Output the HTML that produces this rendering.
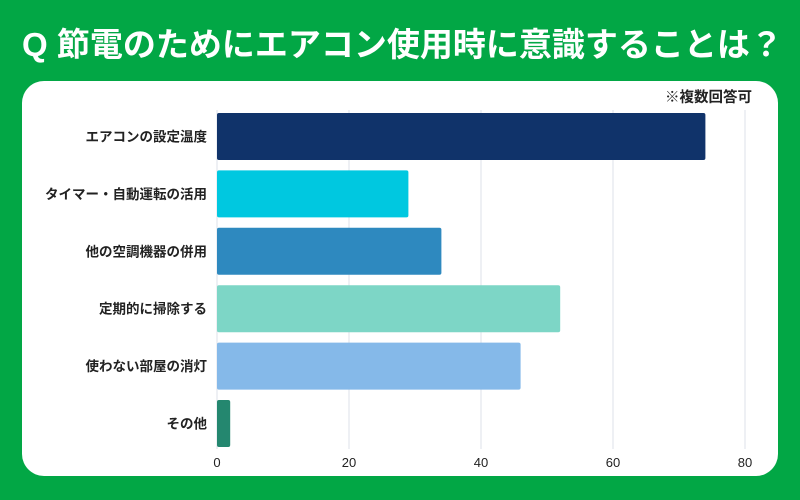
<!DOCTYPE html>
<html><head><meta charset="utf-8"><style>
body{margin:0;width:800px;height:500px;background:#02a745;overflow:hidden;font-family:"Liberation Sans","Noto Sans CJK JP",sans-serif}
</style></head><body>
<svg width="800" height="500" style="position:absolute;left:0;top:0">
<text x="22" y="56" font-size="33" font-weight="bold" fill="#fff" font-family="Liberation Sans, Noto Sans CJK JP, sans-serif">Q 節電のためにエアコン使用時に意識することは？</text>
<rect x="22" y="81" width="756" height="395" rx="22" fill="#fff"/>
<text x="752" y="102" font-size="14.5" font-weight="bold" fill="#222" text-anchor="end" font-family="Liberation Sans, Noto Sans CJK JP, sans-serif">※複数回答可</text>
<g id="grid"></g><g id="bars"></g><g id="labels"></g><g id="ticks"></g>
</svg>
<script>
const categories=["エアコンの設定温度","タイマー・自動運転の活用","他の空調機器の併用","定期的に掃除する","使わない部屋の消灯","その他"];
const values=[74,29,34,52,46,2];
const colors=["#10336a","#00c8e0","#2e89bf","#7dd6c6","#85b9e9","#24876f"];
const tickValues=[0,20,40,60,80];
const NS="http://www.w3.org/2000/svg";
const x=v=>217+v*6.6;
const y=i=>113+i*57.4;
const bh=47;
const F="Liberation Sans, Noto Sans CJK JP, sans-serif";
function mk(t,a,p){const e=document.createElementNS(NS,t);for(const k in a)e.setAttribute(k,a[k]);p.appendChild(e);return e;}
tickValues.forEach(t=>{
 const l=mk("line",{x1:x(t),x2:x(t),y1:110,y2:449,stroke:"#dde1e8","stroke-width":1},document.getElementById("grid"));
 
 
 const tx=mk("text",{x:x(t),y:467,"font-size":13,"text-anchor":"middle",fill:"#222","font-family":F},document.getElementById("ticks"));
 tx.textContent=t;
 
 
});
categories.forEach((c,i)=>{
 const r=mk("rect",{x:x(0),y:y(i),width:x(values[i])-x(0),height:bh,rx:2,fill:colors[i]},document.getElementById("bars"));
 
 
 const tx=mk("text",{x:207,y:y(i)+bh/2+5,"font-size":13.5,"font-weight":"bold","text-anchor":"end",fill:"#222","font-family":F},document.getElementById("labels"));
 tx.textContent=c;
 
 
});
</script>
</body></html>
